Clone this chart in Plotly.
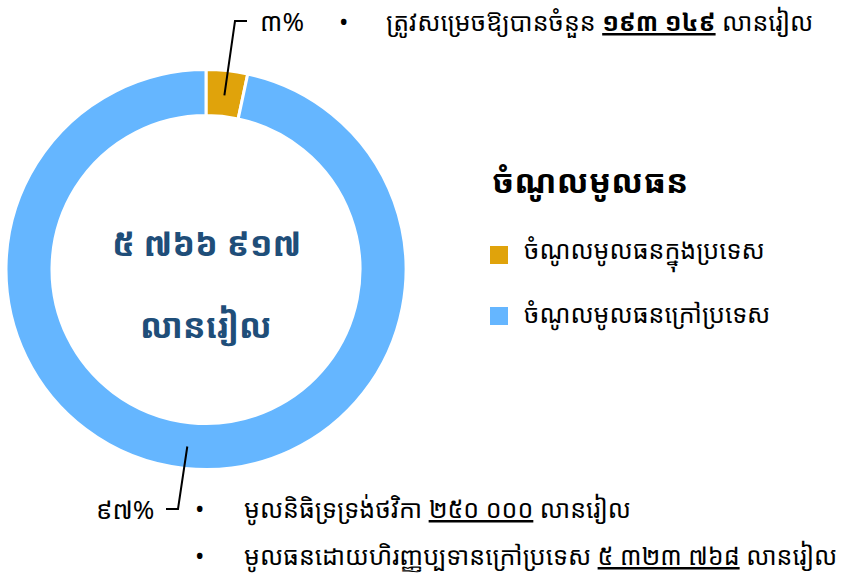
import math
import plotly.graph_objects as go

# ---- data ----
categories = ["ចំណូលមូលធនក្នុងប្រទេស", "ចំណូលមូលធនក្រៅប្រទេស"]
values = [193149, 5573768]
colors = ["#E0A30B", "#65B6FF"]
legend_title = "ចំណូលមូលធន"
unit = "លានរៀល"
domestic_items = [("ត្រូវសម្រេចឱ្យបានចំនួន", 193149)]
foreign_items = [("មូលនិធិទ្រទ្រង់ថវិកា", 250000),
                 ("មូលធនដោយហិរញ្ញប្បទានក្រៅប្រទេស", 5323768)]

W, H = 859, 576
KH_DIGITS = "០១២៣៤៥៦៧៨៩"


def kh(s):
    return "".join(KH_DIGITS[int(c)] if c.isdigit() else c for c in str(s))


def kh_num(n):
    return kh(f"{n:,}".replace(",", " "))


def px(x):
    return x / W


def py(y):
    return 1 - y / H


FONT = "Noto Sans Khmer, Khmer OS Battambang, Noto Sans, sans-serif"
FONT_BOLD = "Noto Sans Khmer, Khmer OS Muol Light, Noto Sans, sans-serif"
BODY = 25

total = sum(values)
cx, cy, R = 206, 269.5, 199
RD = R + 1

fig = go.Figure(go.Pie(
    labels=categories, values=values, hole=0.77, sort=False,
    direction="clockwise", rotation=0,
    marker=dict(colors=colors, line=dict(color="white", width=3)),
    textinfo="none", hoverinfo="label+value+percent", showlegend=False,
    domain=dict(x=[px(cx - RD), px(cx + RD)], y=[py(cy + RD), py(cy - RD)]),
))

annotations = []
shapes = []


def txt(x, y, text, size, xanchor="left", family=FONT, color="black"):
    annotations.append(dict(x=px(x), y=py(y), xref="paper", yref="paper",
                            xanchor=xanchor, yanchor="middle", text=text,
                            showarrow=False,
                            font=dict(family=family, size=size, color=color)))


# center total
txt(cx, 243, f"<b>{kh_num(total)}</b>", 34, "center", FONT_BOLD, "#1F4E79")
txt(cx, 325, f"<b>{unit}</b>", 34, "center", FONT_BOLD, "#1F4E79")

# connectors computed from slice mid-angles
cum = 0
mids = []
for v in values:
    mids.append((cum + v / 2) / total * 2 * math.pi)
    cum += v

# domestic (top)
a = mids[0]
r0 = 175
x0, y0 = cx + r0 * math.sin(a), cy - r0 * math.cos(a)
shapes.append(dict(type="path", xref="paper", yref="paper",
                   path=f"M {px(x0)},{py(y0)} L {px(235)},{py(21)} L {px(247)},{py(21)}",
                   line=dict(color="black", width=2)))
pct0 = round(values[0] / total * 100)
txt(258, 21, f"{kh(pct0)}%", 26)
for i, (lab, v) in enumerate(domestic_items):
    yy = 21 + i * 47
    txt(343, yy, "•", BODY, "center")
    txt(384, yy, f"{lab} <u><b>{kh_num(v)}</b></u> {unit}", BODY)

# foreign (bottom)
a = mids[1]
r1 = 178
x1, y1 = cx + r1 * math.sin(a), cy - r1 * math.cos(a)
shapes.append(dict(type="path", xref="paper", yref="paper",
                   path=f"M {px(x1)},{py(y1)} L {px(178)},{py(509)} L {px(166)},{py(509)}",
                   line=dict(color="black", width=2)))
pct1 = round(values[1] / total * 100)
txt(156, 509, f"{kh(pct1)}%", 26, "right")
for i, (lab, v) in enumerate(foreign_items):
    yy = 508 + i * 47
    txt(199, yy, "•", BODY, "center")
    txt(242, yy, f"{lab} <u>{kh_num(v)}</u> {unit}", BODY)

# legend
txt(490, 180, f"<b>{legend_title}</b>", 33, "left", FONT_BOLD)
for i, (lab, col) in enumerate(zip(categories, colors)):
    yy = 255 + i * 61
    shapes.append(dict(type="rect", xref="paper", yref="paper",
                       x0=px(490), x1=px(508), y0=py(yy + 9), y1=py(yy - 9),
                       fillcolor=col, line=dict(width=0)))
    txt(522, yy - 3, lab, BODY)

fig.update_layout(width=W, height=H, margin=dict(l=0, r=0, t=0, b=0),
                  paper_bgcolor="white", plot_bgcolor="white",
                  annotations=annotations, shapes=shapes)

fig.write_html("out.html", config={"displayModeBar": False},
               post_script="document.body.style.margin='0';"
                           "document.body.style.overflow='hidden';")
